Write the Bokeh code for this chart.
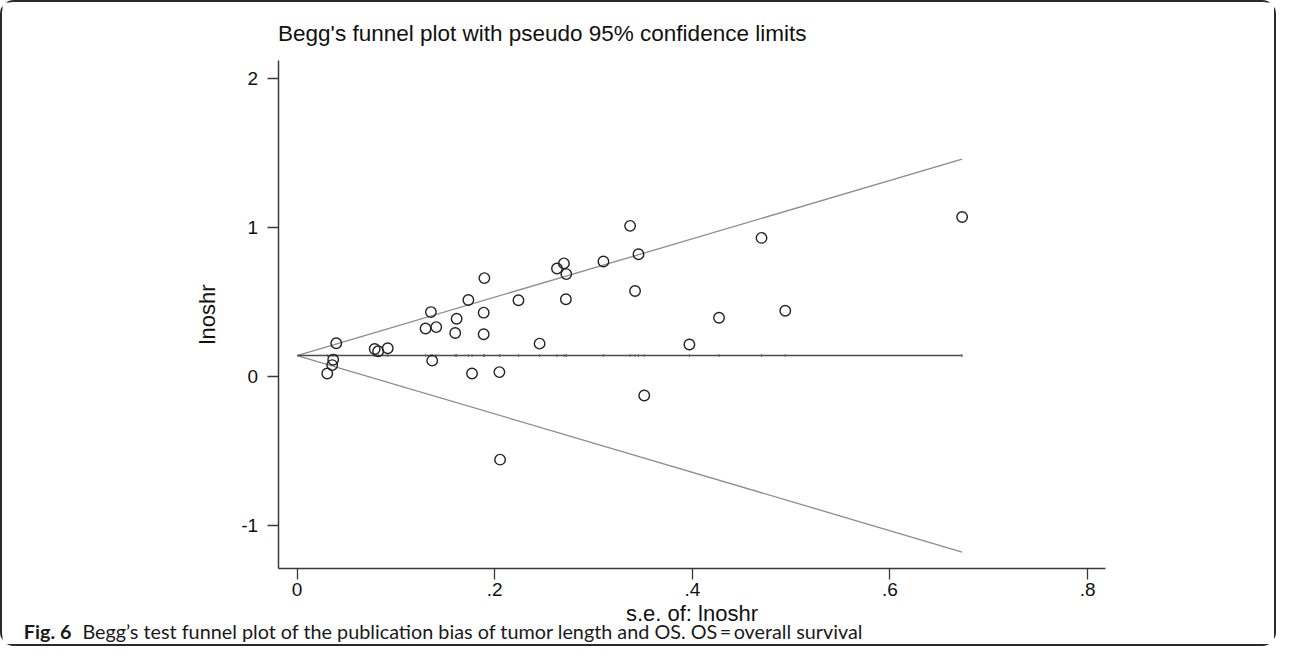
import numpy as np
from bokeh.plotting import figure
from bokeh.models import Range1d, FixedTicker, ColumnDataSource
from bokeh.core.properties import value
from bokeh.embed import file_html
from bokeh.resources import INLINE

# ---- data ----
se = [0.0396, 0.0365, 0.0355, 0.0305, 0.0785, 0.082, 0.0917, 0.130, 0.1354, 0.1408,
      0.1367, 0.160, 0.1614, 0.1733, 0.177, 0.1895, 0.1888, 0.1888, 0.2047, 0.2054,
      0.224, 0.2454, 0.263, 0.270, 0.2724, 0.272, 0.310, 0.337, 0.3455, 0.342,
      0.3513, 0.397, 0.427, 0.470, 0.494, 0.673]
lnoshr = [0.221, 0.110, 0.074, 0.018, 0.182, 0.167, 0.187, 0.320, 0.430, 0.329,
          0.104, 0.290, 0.385, 0.511, 0.018, 0.658, 0.426, 0.281, 0.027, -0.561,
          0.509, 0.218, 0.723, 0.757, 0.685, 0.516, 0.770, 1.009, 0.818, 0.572,
          -0.130, 0.212, 0.392, 0.928, 0.439, 1.068]
pooled = 0.138
x_ticks = [0, 0.2, 0.4, 0.6, 0.8]
x_tick_labels = ["0", ".2", ".4", ".6", ".8"]
y_ticks = [-1, 0, 1, 2]
y_tick_labels = ["-1", "0", "1", "2"]
x_axis_extent = (-0.0193, 0.8186)
y_axis_extent = (-1.295, 2.117)

title_text = "Begg's funnel plot with pseudo 95% confidence limits"
x_title = "s.e. of: lnoshr"
y_title = "lnoshr"
cap_bold = "Fig. 6"
cap_rest = "Begg\u2019s test funnel plot of the publication bias of tumor length and OS. OS\u2009=\u2009overall survival"

# ---- layout geometry (pixels on the canvas) ----
BORDER = 2
W_TOT, H_TOT = 1276, 646
W, H = W_TOT - 2 * BORDER, H_TOT - 2 * BORDER   # drawing canvas inside the border
X0_PX, PX_PER_X = 293.7, 985.0   # canvas x of se = 0, pixels per unit
Y0_PX, PX_PER_Y = 371.3, 148.0   # canvas y of lnoshr = 0, pixels per unit


def xd(px):
    return (px - X0_PX) / PX_PER_X


def yd(py):
    return (Y0_PX - py) / PX_PER_Y


p = figure(width=W_TOT, height=H_TOT, output_backend="svg", toolbar_location=None,
           x_range=Range1d(xd(0), xd(W)), y_range=Range1d(yd(H), yd(0)),
           min_border=0, background_fill_color="white", border_fill_color="white",
           styles={"border": "%dpx solid #2a2a2a" % BORDER, "border-radius": "14px",
                   "box-sizing": "border-box"})
p.outline_line_color = None
p.grid.visible = False

# funnel limits
semax = max(se)
p.line([0, semax], [pooled, pooled + 1.96 * semax], line_color="#8c8c8c", line_width=1.3)
p.line([0, semax], [pooled, pooled - 1.96 * semax], line_color="#8c8c8c", line_width=1.3)
p.line([0, semax], [pooled, pooled], line_color="#4a4a4a", line_width=1.5)
p.scatter(se, [pooled] * len(se), marker="dash", angle=np.pi / 2, size=3,
          line_color="#666666", line_width=1)

src = ColumnDataSource(dict(se=se, y=lnoshr))
p.scatter("se", "y", source=src, marker="circle", size=10.5, fill_color=None,
          line_color="#222222", line_width=1.4)

axis_color = "#3a3a3a"
for ax in (p.xaxis[0], p.yaxis[0]):
    ax.axis_line_color = axis_color
    ax.axis_line_width = 1.5
    ax.major_tick_line_color = axis_color
    ax.major_tick_line_width = 1.3
    ax.major_tick_out = 11
    ax.major_tick_in = 0
    ax.minor_tick_line_color = None
    ax.major_label_text_font = "Liberation Sans"
    ax.major_label_text_font_size = "19px"
    ax.major_label_text_color = "#111111"
    ax.axis_label_text_font = "Liberation Sans"
    ax.axis_label_text_font_size = "22px"
    ax.axis_label_text_font_style = "normal"
    ax.axis_label_text_color = "#111111"

p.xaxis.ticker = FixedTicker(ticks=x_ticks)
p.xaxis.major_label_overrides = dict(zip(x_ticks, x_tick_labels))
p.xaxis.major_label_standoff = 3
p.xaxis.axis_label = x_title
p.xaxis.axis_label_standoff = 2
p.xaxis.bounds = x_axis_extent
p.xaxis.fixed_location = y_axis_extent[0]

p.yaxis.ticker = FixedTicker(ticks=y_ticks)
p.yaxis.major_label_overrides = dict(zip(y_ticks, y_tick_labels))
p.yaxis.major_label_standoff = 9
p.yaxis.axis_label = y_title
p.yaxis.axis_label_standoff = 19
p.yaxis.bounds = y_axis_extent
p.yaxis.fixed_location = x_axis_extent[0]

# title (vertically centred on its line)
p.text(x=[x_axis_extent[0]], y=[yd(31.0)], text=[title_text],
       text_font=value("Liberation Sans"), text_font_size="22.5px",
       text_color="#111111", text_baseline="middle", text_align="left")

# caption
p.text(x=[xd(21.3)], y=[yd(625.0)], text=[cap_bold], text_font=value("Lato"),
       text_font_size="19.8px", text_font_style="bold", text_color="#1a1a1a",
       text_baseline="middle", text_align="left")
p.text(x=[xd(79.7)], y=[yd(625.0)], text=[cap_rest], text_font=value("Lato"),
       text_font_size="19.8px", text_color="#1a1a1a",
       text_baseline="middle", text_align="left")

open("out.html", "w").write(file_html(p, INLINE))
